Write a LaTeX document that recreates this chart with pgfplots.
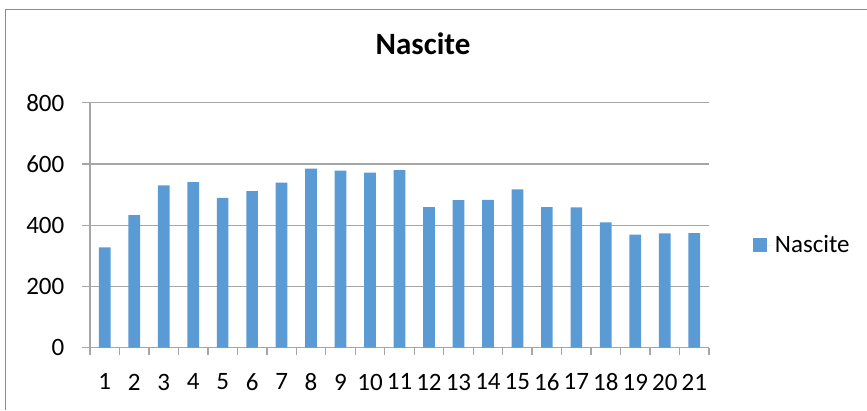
\documentclass[border=0pt]{standalone}
\usepackage{pgfplots}
\pgfplotsset{compat=1.18}
\usepackage{fontspec}
\setmainfont{Carlito}
\definecolor{barblue}{HTML}{5B9BD5}
\definecolor{gridgray}{HTML}{A6A6A6}
\definecolor{bordergray}{HTML}{8C8C8C}
\begin{document}
\begin{tikzpicture}[x=1pt,y=1pt]
\useasboundingbox (0,0) rectangle (867,410);
\draw[bordergray, line width=1pt] (5,0) -- (5,400) -- (868,400);
\node[font=\fontsize{31}{36}\selectfont\bfseries] at (423,366) {Nascite};
\begin{axis}[
  at={(90pt,62.3pt)}, anchor=south west,
  scale only axis, width=619pt, height=245pt,
  xmin=0.5, xmax=21.5, ymin=0, ymax=800,
  axis x line*=bottom, axis y line*=left,
  axis line style={gridgray, line width=1.3pt},
  ytick={0,200,400,600,800},
  ymajorgrids, grid style={gridgray, line width=1.3pt},
  tick style={gridgray, line width=1.3pt},
  tick align=outside, major tick length=7.5pt,
  xtick={0.5,1.5,...,21.5},
  xticklabels={},
  extra x ticks={1,...,21},
  extra x tick labels={1,2,3,4,5,6,7,8,9,10,11,12,13,14,15,16,17,18,19,20,21},
  extra x tick style={grid=none, major tick length=0pt},
  /pgf/number format/assume math mode=true,
  tick label style={font=\fontsize{25}{30}\selectfont, text=black},
  yticklabel style={inner sep=0pt, xshift=-18pt},
  xticklabel style={inner sep=0pt, yshift=-26pt},
  legend style={at={(1.0706,0.419)}, anchor=west, draw=none, fill=none, inner sep=0pt,
    font=\fontsize{25}{30}\selectfont},
  ybar, bar width=11.7pt,
]
\addplot[fill=barblue, draw=none,
  legend image code/.code={\fill[barblue] (0pt,-7pt) rectangle (14pt,7pt); \path (0pt,0pt) -- (20pt,0pt);}]
  coordinates {
  (1,328) (2,433) (3,530) (4,541) (5,489) (6,511) (7,539) (8,585) (9,578) (10,572) (11,580)
  (12,459) (13,482) (14,483) (15,517) (16,459) (17,458) (18,409) (19,369) (20,373) (21,374)
  };
\addlegendentry{Nascite}
\end{axis}
\end{tikzpicture}
\end{document}
